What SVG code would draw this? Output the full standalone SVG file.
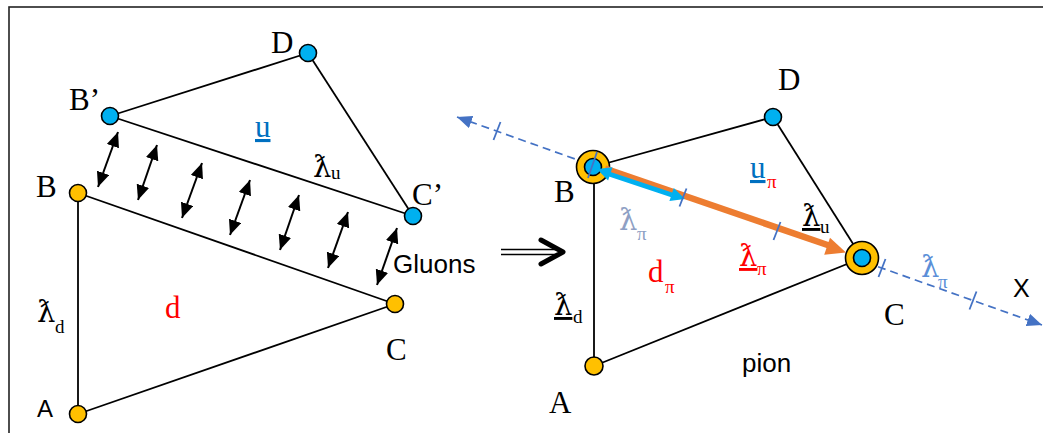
<svg xmlns="http://www.w3.org/2000/svg" width="1043" height="433" viewBox="0 0 1043 433">
<style>
.edge{stroke:#000;stroke-width:1.8;fill:none}
.gl{stroke:#000;stroke-width:2;fill:none;marker-start:url(#ah);marker-end:url(#ah)}
.yel{fill:#FFC000;stroke:#000;stroke-width:1.6}
.blu{fill:#00B0F0;stroke:#000;stroke-width:1.6}
.ser{font-family:"Liberation Serif","DejaVu Serif",serif;font-size:31px}
.lam{font-family:"DejaVu Serif","Liberation Serif",serif;font-size:29px}
.sub{font-family:"Liberation Serif",serif;font-size:19px}
.sans{font-family:"Liberation Sans",Arial,sans-serif}
.tick{stroke:#4472C4;stroke-width:1.8}
.dash{stroke:#4472C4;stroke-width:1.7;stroke-dasharray:8,5}
</style>
<defs>
<marker id="ah" markerUnits="userSpaceOnUse" markerWidth="16" markerHeight="14" refX="15" refY="6.5" orient="auto-start-reverse">
<path d="M0,0 L15,6.5 L0,13 z" fill="#000"/>
</marker>
<marker id="bh" markerUnits="userSpaceOnUse" markerWidth="16" markerHeight="14" refX="15" refY="6.5" orient="auto-start-reverse">
<path d="M0,0 L15,6.5 L0,13 z" fill="#4472C4"/>
</marker>
</defs>
<rect x="9" y="7" width="1060" height="460" fill="none" stroke="#222" stroke-width="1.6"/>

<g id="connectors">
<line class="edge" x1="110" y1="116" x2="308" y2="53"/>
<line class="edge" x1="308" y1="53" x2="413" y2="216"/>
<line class="edge" x1="110" y1="116" x2="413" y2="216"/>
<line class="edge" x1="78" y1="193" x2="395" y2="304"/>
<line class="edge" x1="78" y1="193" x2="78" y2="414"/>
<line class="edge" x1="78" y1="414" x2="395" y2="304"/>
<line class="gl" x1="118" y1="132" x2="98" y2="187"/>
<line class="gl" x1="157" y1="145" x2="138" y2="200"/>
<line class="gl" x1="202" y1="163" x2="182" y2="218"/>
<line class="gl" x1="250" y1="180" x2="230" y2="235"/>
<line class="gl" x1="299" y1="195" x2="280" y2="250"/>
<line class="gl" x1="348" y1="212" x2="328" y2="268"/>
<line class="gl" x1="397" y1="228" x2="377" y2="285"/>
<g id="implies">
<line x1="501" y1="249.5" x2="558" y2="249.5" stroke="#000" stroke-width="1.6"/>
<line x1="501" y1="254.5" x2="558" y2="254.5" stroke="#000" stroke-width="1.6"/>
<polyline points="541,240 563,252 541,264" fill="none" stroke="#000" stroke-width="5" stroke-linecap="round" stroke-linejoin="round"/>
</g>
<line class="edge" x1="593" y1="167" x2="773" y2="117" stroke-width="1.6"/>
<line class="edge" x1="773" y1="117" x2="862" y2="258" stroke-width="1.6"/>
<line class="edge" x1="594" y1="167" x2="594" y2="366" stroke-width="1.6"/>
<line class="edge" x1="594" y1="366" x2="862" y2="258" stroke-width="1.6"/>
<line class="dash" x1="457" y1="117" x2="578" y2="160" marker-start="url(#bh)"/>
<line class="dash" x1="878" y1="266.7" x2="1042" y2="325" marker-end="url(#bh)"/>
</g>

<g id="node-left-Bp"><circle class="blu" cx="110" cy="116" r="8.5"/><text class="ser" x="69" y="110">B’</text></g>
<g id="node-left-D"><circle class="blu" cx="308" cy="53" r="8.5"/><text class="ser" x="271" y="53">D</text></g>
<g id="node-left-Cp"><circle class="blu" cx="413" cy="216" r="8.5"/><text class="ser" x="412" y="205">C’</text></g>
<g id="node-left-B"><circle class="yel" cx="78" cy="193" r="8.5"/><text class="ser" x="36" y="197">B</text></g>
<g id="node-left-C"><circle class="yel" cx="395" cy="304" r="8.5"/><text class="ser" x="386" y="360">C</text></g>
<g id="node-left-A"><circle class="yel" cx="78" cy="414" r="8.5"/><text class="sans" font-size="24" x="37" y="417">A</text></g>

<g id="labels-left">
<text class="ser" x="255" y="137" font-size="33" fill="#0070C0" text-decoration="underline">u</text>
<text class="lam" x="313" y="177">ƛ<tspan class="sub" x="331" y="179">u</tspan></text>
<text class="lam" x="37" y="322">ƛ<tspan class="sub" x="55" y="333">d</tspan></text>
<text class="ser" x="165" y="318" fill="#FF0000">d</text>
<text class="sans" font-size="26" x="393" y="273">Gluons</text>
</g>

<g id="node-right-D"><circle class="blu" cx="773" cy="117" r="8.5"/><text class="ser" x="778" y="90">D</text></g>
<g id="node-right-A"><circle class="yel" cx="594" cy="366" r="9"/><text class="ser" x="549" y="413">A</text></g>
<g id="node-right-B"><circle class="yel" cx="593" cy="167" r="16.5" stroke-width="2"/><circle class="blu" cx="593" cy="167" r="8.5"/><text class="ser" x="554" y="202">B</text></g>
<g id="node-right-C"><circle class="yel" cx="862" cy="258" r="16.5" stroke-width="2"/><circle class="blu" cx="862" cy="258" r="8.5"/><text class="ser" x="884" y="325">C</text></g>

<g id="pion-arrows">
<line x1="605" y1="168.5" x2="829" y2="245.5" stroke="#ED7D31" stroke-width="6.5"/>
<polygon points="846,252.6 824.2,254.7 830,237.7" fill="#ED7D31"/>
<line x1="609" y1="174" x2="672" y2="195" stroke="#00B0F0" stroke-width="5"/>
<polygon points="597,169 608.1,180.4 612.5,167.2" fill="#00B0F0"/>
<polygon points="685,199 669.4,201.1 673.8,187.9" fill="#00B0F0"/>
</g>
<g id="ticks">
<line class="tick" x1="493.5" y1="140" x2="500.5" y2="122"/>
<line class="tick" x1="588" y1="178" x2="597" y2="152"/>
<line class="tick" x1="679.5" y1="206.5" x2="686.5" y2="188.5"/>
<line class="tick" x1="773.5" y1="240" x2="780.5" y2="222"/>
<line class="tick" x1="878.5" y1="277" x2="885.5" y2="259"/>
<line class="tick" x1="969.5" y1="309.5" x2="976.5" y2="291.5"/>
</g>

<g id="labels-right">
<text class="ser" x="750" y="178" font-size="33"><tspan fill="#0070C0" text-decoration="underline">u</tspan><tspan class="sub" x="767" y="188" fill="#FF0000">π</tspan></text>
<text class="lam" x="802" y="226"><tspan text-decoration="underline">ƛ</tspan><tspan class="sub" x="820" y="233">u</tspan></text>
<text class="lam" x="619" y="230" fill="#8EA0C4">ƛ<tspan class="sub" x="637" y="240">π</tspan></text>
<text class="lam" x="739" y="266" fill="#FF0000"><tspan text-decoration="underline">ƛ</tspan><tspan class="sub" x="757" y="275">π</tspan></text>
<text class="ser" x="648" y="282" fill="#FF0000">d<tspan class="sub" x="665" y="293">π</tspan></text>
<text class="lam" x="554" y="315"><tspan text-decoration="underline">ƛ</tspan><tspan class="sub" x="573" y="323">d</tspan></text>
<text class="lam" x="921" y="277" fill="#5B8FD8">ƛ<tspan class="sub" x="938" y="288">π</tspan></text>
<text class="sans" font-size="26" x="742" y="372">pion</text>
<text class="sans" font-size="25" x="1013" y="297">X</text>
</g>
</svg>
